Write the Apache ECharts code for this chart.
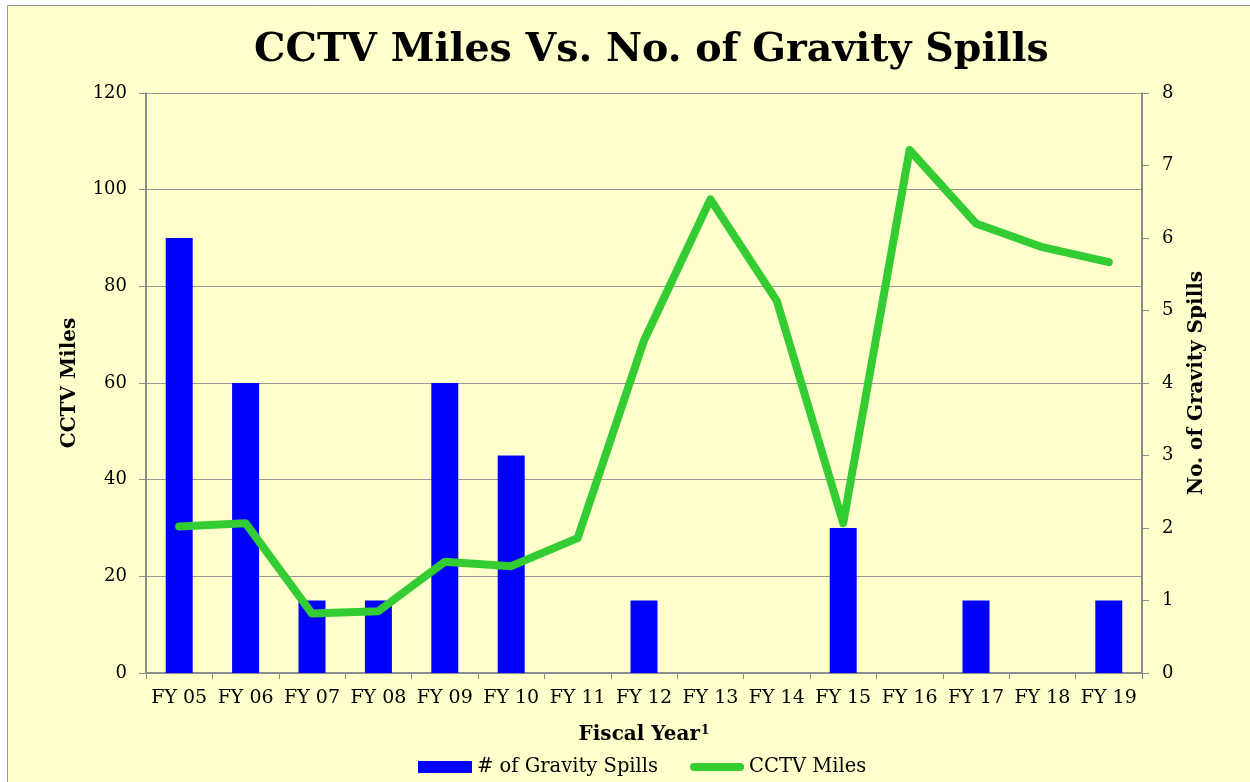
<!doctype html>
<html>
<head>
<meta charset="utf-8" />
<script src="https://cdn.jsdelivr.net/npm/echarts@6/dist/echarts.min.js"></script>
<style>
  html, body { margin: 0; padding: 0; background: #ffffff; }
  #chart { width: 1250px; height: 782px; }
</style>
</head>
<body>
<div id="chart"></div>
<script>
const FONT = "'DejaVu Serif', 'Liberation Serif', serif";

const years = ["FY 05", "FY 06", "FY 07", "FY 08", "FY 09", "FY 10", "FY 11", "FY 12",
  "FY 13", "FY 14", "FY 15", "FY 16", "FY 17", "FY 18", "FY 19"];
const gravitySpills = [6, 4, 1, 1, 4, 3, 0, 1, 0, 0, 2, 0, 1, 0, 1];
const cctvMiles = [30.3, 31, 12.3, 12.8, 23, 22.1, 27.9, 68.8, 98, 77, 31, 108.2, 93, 88.1, 85];

const chart = echarts.init(document.getElementById("chart"), null, { renderer: "canvas" });

// rounded green stroke used as the legend mark of the line series
const lineIcon = "path://M4.5,0 H55.5 A4.5,4.5 0 0 1 55.5,9 H4.5 A4.5,4.5 0 0 1 4.5,0 Z";

chart.setOption({
  animation: false,
  backgroundColor: "#ffffff",
  textStyle: { fontFamily: FONT, color: "#000" },
  graphic: [{
    type: "rect",
    z: -10,
    shape: { x: 7.5, y: 5.5, width: 1260, height: 800 },
    style: { fill: "#FFFFCC", stroke: "#999999", lineWidth: 1 },
  }],
  title: {
    text: "CCTV Miles Vs. No. of Gravity Spills",
    left: 249,
    top: 26,
    textStyle: { fontFamily: FONT, fontSize: 39.5, fontWeight: "bold", color: "#000" },
  },
  legend: {
    bottom: 0,
    left: 413,
    itemWidth: 54,
    itemHeight: 12,
    itemGap: 32,
    symbolKeepAspect: true,
    textStyle: { fontFamily: FONT, fontSize: 19.5, color: "#000" },
    data: [
      { name: "# of Gravity Spills", icon: "rect" },
      { name: "CCTV Miles", icon: lineIcon },
    ],
  },
  grid: { left: 146, right: 108, top: 93, bottom: 109, containLabel: false },
  xAxis: {
    type: "category",
    data: years,
    name: "{t|Fiscal Year}{s|1}",
    nameLocation: "middle",
    nameGap: 52,
    nameTextStyle: {
      rich: {
        t: { fontFamily: FONT, fontSize: 20, fontWeight: "bold", color: "#000" },
        s: { fontFamily: FONT, fontSize: 12, fontWeight: "bold", color: "#000", verticalAlign: "top", padding: [0, 0, 8, 1] },
      },
    },
    axisLine: { lineStyle: { color: "#8c8c8c", width: 2 } },
    axisTick: { show: true, length: 6, lineStyle: { color: "#8c8c8c" } },
    axisLabel: { fontFamily: FONT, fontSize: 19, color: "#000", margin: 16, interval: 0 },
  },
  yAxis: [
    {
      type: "value",
      min: 0,
      max: 120,
      interval: 20,
      name: "CCTV Miles",
      nameLocation: "middle",
      nameGap: 66,
      nameRotate: 90,
      nameTextStyle: { fontFamily: FONT, fontSize: 20, fontWeight: "bold", color: "#000" },
      axisLine: { show: true, lineStyle: { color: "#8c8c8c", width: 2 } },
      axisTick: { show: true, length: 7, lineStyle: { color: "#8c8c8c" } },
      axisLabel: { fontFamily: FONT, fontSize: 18, color: "#000", margin: 19 },
      splitLine: { show: true, lineStyle: { color: "#999999", width: 1 } },
    },
    {
      type: "value",
      min: 0,
      max: 8,
      interval: 1,
      position: "right",
      name: "No. of Gravity Spills",
      nameLocation: "middle",
      nameGap: 45,
      nameRotate: 90,
      nameTextStyle: { fontFamily: FONT, fontSize: 20, fontWeight: "bold", color: "#000" },
      axisLine: { show: true, lineStyle: { color: "#8c8c8c", width: 2 } },
      axisTick: { show: true, length: 7, lineStyle: { color: "#8c8c8c" } },
      axisLabel: { fontFamily: FONT, fontSize: 18, color: "#000", margin: 20 },
      splitLine: { show: false },
    },
  ],
  series: [
    {
      name: "# of Gravity Spills",
      type: "bar",
      yAxisIndex: 1,
      barWidth: 27,
      itemStyle: { color: "#0000FF" },
      data: gravitySpills,
    },
    {
      name: "CCTV Miles",
      type: "line",
      yAxisIndex: 0,
      symbol: "none",
      lineStyle: { color: "#33CC33", width: 8, cap: "round", join: "round" },
      itemStyle: { color: "#33CC33" },
      data: cctvMiles,
      z: 3,
    },
  ],
});
</script>
</body>
</html>
